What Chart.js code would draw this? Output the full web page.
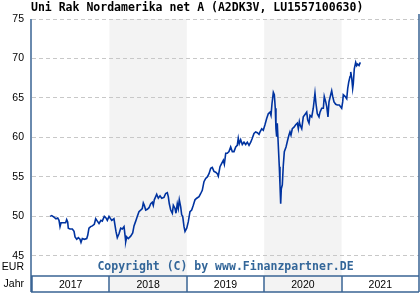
<!DOCTYPE html>
<html>
<head>
<meta charset="utf-8">
<script src="https://cdn.jsdelivr.net/npm/chart.js@4"></script>
<style>
  html, body { margin: 0; padding: 0; background: #fff; }
  canvas { display: block; }
</style>
</head>
<body>
<canvas id="chart" width="420" height="300"></canvas>
<script>
// Chart texts
const title = "Uni Rak Nordamerika net A (A2DK3V, LU1557100630)";
const copyright = "Copyright (C) by www.Finanzpartner.DE";
const currencyLabel = "EUR";
const yearLabel = "Jahr";

// Axis values
const years = [2017, 2018, 2019, 2020, 2021];
const shadedYears = [2018, 2020];
const yTicks = [45, 50, 55, 60, 65, 70, 75];

// Price series (decimal year, price in EUR)
const dates = [
  2017.233, 2017.255, 2017.284, 2017.310, 2017.332, 2017.349, 2017.362, 2017.375,
  2017.413, 2017.435, 2017.448, 2017.461, 2017.469, 2017.491, 2017.521, 2017.543,
  2017.556, 2017.578, 2017.598, 2017.620, 2017.633, 2017.650, 2017.676, 2017.707,
  2017.720, 2017.736, 2017.758, 2017.779, 2017.805, 2017.823, 2017.844, 2017.866,
  2017.891, 2017.908, 2017.934, 2017.956, 2017.973, 2017.995,
  2018.030, 2018.059, 2018.072, 2018.085, 2018.102, 2018.124, 2018.146, 2018.167,
  2018.189, 2018.202, 2018.211, 2018.224, 2018.244, 2018.275, 2018.301, 2018.318,
  2018.340, 2018.360, 2018.382, 2018.404, 2018.425, 2018.438, 2018.451, 2018.469,
  2018.490, 2018.512, 2018.534, 2018.554, 2018.567, 2018.580, 2018.598, 2018.611,
  2018.632, 2018.654, 2018.676, 2018.705, 2018.727, 2018.748, 2018.761, 2018.774,
  2018.792, 2018.813, 2018.826, 2018.848, 2018.860, 2018.877, 2018.890, 2018.903,
  2018.921, 2018.934, 2018.947, 2018.964, 2018.977, 2018.999,
  2019.019, 2019.041, 2019.063, 2019.084, 2019.106, 2019.128, 2019.158, 2019.180,
  2019.200, 2019.222, 2019.244, 2019.265, 2019.287, 2019.309, 2019.329, 2019.351,
  2019.373, 2019.394, 2019.407, 2019.429, 2019.451, 2019.472, 2019.485, 2019.503,
  2019.523, 2019.545, 2019.567, 2019.588, 2019.610, 2019.632, 2019.652, 2019.665,
  2019.678, 2019.696, 2019.717, 2019.739, 2019.761, 2019.782, 2019.804, 2019.826,
  2019.846, 2019.868, 2019.890, 2019.911, 2019.933, 2019.946, 2019.968, 2019.988,
  2020.010, 2020.032, 2020.053, 2020.075, 2020.088, 2020.101, 2020.118, 2020.131,
  2020.143, 2020.152, 2020.161, 2020.169, 2020.182, 2020.195, 2020.204, 2020.213,
  2020.221, 2020.234, 2020.247, 2020.260, 2020.282, 2020.304, 2020.320, 2020.333,
  2020.346, 2020.363, 2020.385, 2020.407, 2020.428, 2020.441, 2020.454, 2020.463,
  2020.485, 2020.505, 2020.527, 2020.549, 2020.562, 2020.579, 2020.592, 2020.614,
  2020.634, 2020.656, 2020.669, 2020.686, 2020.708, 2020.721, 2020.743, 2020.764,
  2020.776, 2020.795, 2020.808, 2020.824, 2020.837, 2020.859, 2020.872, 2020.885,
  2020.902, 2020.924, 2020.945, 2020.970,
  2021.001, 2021.014, 2021.022, 2021.044, 2021.066, 2021.079, 2021.092, 2021.109,
  2021.118, 2021.131, 2021.143, 2021.151, 2021.164, 2021.182, 2021.195, 2021.208,
  2021.225, 2021.242
];
const prices = [
  50.0, 50.1, 49.9, 49.7, 49.8, 49.5, 48.7, 49.2,
  49.2, 49.2, 49.6, 49.3, 48.5, 48.4, 48.4, 48.1,
  47.4, 47.1, 47.3, 47.1, 46.7, 47.2, 47.1, 47.2,
  47.6, 48.5, 48.7, 48.8, 49.0, 49.7, 49.4, 49.1,
  49.5, 49.4, 50.0, 49.8, 49.5, 50.0,
  49.5, 49.7, 48.9, 48.1, 47.3, 47.8, 48.5, 48.4,
  48.7, 47.6, 46.8, 47.4, 47.2, 47.5, 47.9, 48.8,
  49.4, 50.0, 50.6, 50.8, 51.0, 51.7, 51.4, 50.8,
  50.9, 51.1, 51.6, 51.8, 51.4, 52.1, 52.5, 52.8,
  52.3, 52.6, 52.3, 52.4, 52.9, 53.0, 52.5, 51.6,
  50.8, 50.4, 51.4, 51.0, 50.4, 51.6, 51.0, 52.1,
  51.2, 50.2, 50.0, 48.7, 48.1, 48.5,
  49.3, 50.6, 50.8, 51.4, 52.1, 52.3, 52.5, 52.9,
  53.3, 54.4, 54.8, 55.0, 55.4, 56.1, 56.2, 55.7,
  55.6, 55.4, 55.1, 56.3, 56.7, 57.1, 56.6, 58.0,
  58.0, 58.2, 58.8, 58.2, 58.2, 58.8, 59.0, 59.9,
  59.2, 59.7, 59.1, 59.4, 59.1, 59.4, 59.0, 59.4,
  59.9, 60.5, 60.7, 60.6, 60.4, 60.7, 61.1, 60.9,
  61.6, 62.4, 63.0, 63.2, 62.8, 64.3, 65.7, 65.4,
  63.7, 61.1, 60.1, 61.8, 59.0, 56.3, 54.0, 51.6,
  53.5, 54.0, 56.5, 58.2, 58.8, 59.7, 60.3, 60.7,
  60.3, 61.1, 61.3, 61.6, 61.8, 61.1, 62.0, 61.6,
  61.1, 62.6, 62.9, 63.2, 62.2, 61.8, 62.8, 62.6,
  63.7, 65.6, 64.3, 63.0, 62.6, 63.2, 63.7, 63.7,
  65.2, 64.5, 63.9, 62.6, 64.5, 65.4, 65.9, 65.2,
  64.5, 64.2, 64.1, 64.1,
  63.7, 64.5, 65.4, 65.2, 64.9, 66.2, 67.0, 67.7,
  68.3, 67.5, 66.2, 66.8, 68.7, 69.5, 69.1, 69.3,
  69.1, 69.5
];

const frameColor = "#3a6494";
const lineColor = "#0033a0";
const bandColor = "#f3f3f3";
const monoFont = "bold 11.5px 'DejaVu Sans Mono', monospace";
const labelFont = "10.5px 'Liberation Sans', Arial, sans-serif";

// Year bands, title, frame and labels drawn around the chart area
const decorPlugin = {
  id: "decor",
  beforeDraw(chart) {
    const { ctx, chartArea, scales } = chart;
    ctx.save();
    ctx.fillStyle = "#ffffff";
    ctx.fillRect(0, 0, chart.width, chart.height);
    ctx.fillStyle = bandColor;
    shadedYears.forEach((yr) => {
      const x1 = scales.x.getPixelForValue(yr);
      const x2 = scales.x.getPixelForValue(yr + 1);
      ctx.fillRect(x1, chartArea.top, x2 - x1, 292 - chartArea.top);
    });
    ctx.restore();
  },
  afterDraw(chart) {
    const { ctx, chartArea, scales } = chart;
    ctx.save();

    // title
    ctx.fillStyle = "#000";
    ctx.font = monoFont;
    ctx.textAlign = "left";
    ctx.textBaseline = "middle";
    ctx.fillText(title, 31, 8);

    // copyright
    ctx.fillStyle = "#336699";
    ctx.textAlign = "center";
    ctx.fillText(copyright, (chartArea.left + chartArea.right) / 2, 267);

    // EUR / Jahr
    ctx.fillStyle = "#000";
    ctx.font = labelFont;
    ctx.textAlign = "right";
    ctx.fillText(currencyLabel, 24, 267);
    ctx.fillText(yearLabel, 24, 284);

    // frame lines
    ctx.strokeStyle = frameColor;
    ctx.lineWidth = 1.5;
    ctx.beginPath();
    ctx.moveTo(31, chartArea.top);
    ctx.lineTo(31, 292);
    ctx.moveTo(419, 14);
    ctx.lineTo(419, 292);
    ctx.moveTo(31, chartArea.bottom);
    ctx.lineTo(419, chartArea.bottom);
    ctx.moveTo(31, 292);
    ctx.lineTo(419, 292);
    years.forEach((yr) => {
      const x = Math.round(scales.x.getPixelForValue(yr));
      ctx.moveTo(x, chartArea.bottom);
      ctx.lineTo(x, 292);
    });
    ctx.stroke();
    ctx.restore();
  },
};

const ctx = document.getElementById("chart").getContext("2d");
new Chart(ctx, {
  type: "line",
  data: {
    datasets: [
      {
        data: dates.map((d, i) => ({ x: d, y: prices[i] })),
        borderColor: lineColor,
        borderWidth: 1.6,
        pointRadius: 0,
        tension: 0,
        fill: false,
      },
    ],
  },
  options: {
    responsive: false,
    animation: false,
    devicePixelRatio: 1,
    layout: { padding: { top: 19, right: 1, bottom: 0, left: 0 } },
    plugins: {
      legend: { display: false },
      tooltip: { enabled: false },
    },
    scales: {
      x: {
        type: "linear",
        min: 2017,
        max: 2022,
        afterBuildTicks: (scale) => {
          scale.ticks = years.map((yr) => ({ value: yr + 0.5 }));
        },
        afterFit: (scale) => {
          scale.height = 24;
        },
        grid: { display: false, drawTicks: false },
        border: { display: false },
        ticks: {
          maxRotation: 0,
          autoSkip: false,
          padding: 3,
          color: "#000",
          font: { family: "'Liberation Sans', Arial, sans-serif", size: 10.5 },
          callback: (value, index) => String(years[index]),
        },
      },
      y: {
        min: 42.45,
        max: 75,
        afterBuildTicks: (scale) => {
          scale.ticks = yTicks.map((v) => ({ value: v }));
        },
        afterFit: (scale) => {
          scale.width = 32;
        },
        grid: { color: "#c8c8c8", lineWidth: 1, drawTicks: false },
        border: { display: false, dash: [4, 3] },
        ticks: {
          padding: 8,
          color: "#000",
          font: { family: "'Liberation Sans', Arial, sans-serif", size: 10.5 },
        },
      },
    },
  },
  plugins: [decorPlugin],
});
</script>
</body>
</html>
